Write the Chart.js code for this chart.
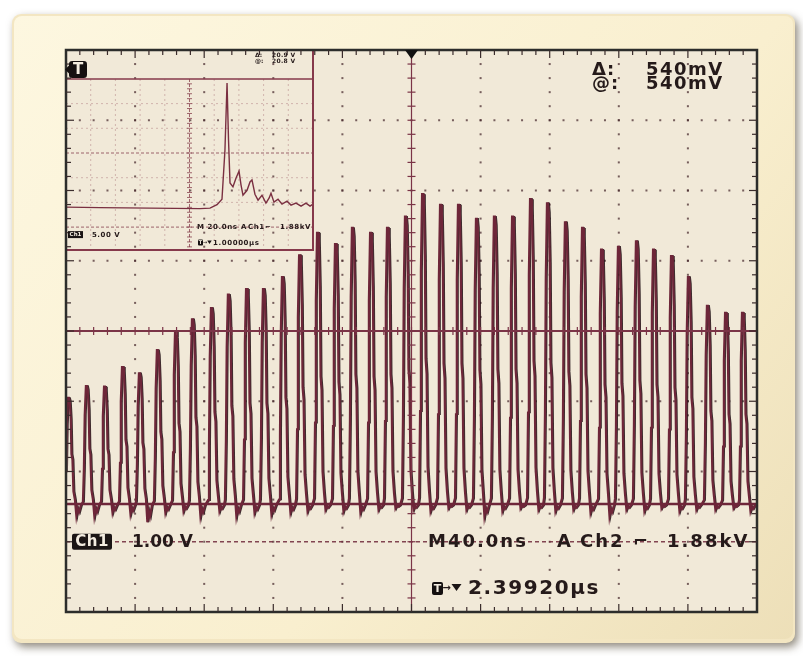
<!DOCTYPE html>
<html>
<head>
<meta charset="utf-8">
<script src="https://cdn.jsdelivr.net/npm/chart.js@4.4.1/dist/chart.umd.min.js"></script>
<style>
  html, body { margin: 0; padding: 0; background: #ffffff; }
  canvas { display: block; }
</style>
</head>
<body>
<canvas id="scope" width="803" height="656"></canvas>
<script>
// ---- Channel 1 pulse train (40 ns/div, 1 V/div) ----
// peak time of each pulse, ns from the trigger point
const pulseTimes = [-198.3, -187.9, -177.4, -167.0, -157.2, -146.8, -136.3, -126.5, -115.5, -105.7,
                    -95.2, -85.4, -74.4, -64.5, -54.1, -43.7, -33.9, -23.4, -13.6, -3.2,
                    6.7, 17.1, 27.5, 37.9, 48.3, 58.8, 69.2, 79.0, 89.4, 99.3,
                    110.3, 120.1, 130.5, 140.4, 150.8, 160.6, 171.6, 182.1, 191.9];
// peak amplitude of each pulse, volts above ground
const pulsePeaks = [1.51, 1.68, 1.67, 1.95, 1.86, 2.19, 2.45, 2.63, 2.79, 2.98,
                    3.06, 3.06, 3.23, 3.54, 3.86, 3.70, 3.93, 3.86, 3.93, 4.09,
                    4.41, 4.26, 4.26, 4.06, 4.09, 4.09, 4.34, 4.28, 4.01, 3.93,
                    3.62, 3.66, 3.74, 3.62, 3.53, 3.23, 2.82, 2.72, 2.72];
// undershoot after each pulse, volts
const pulseUndershoot = [-0.17, -0.17, -0.12, -0.14, -0.26, -0.12, -0.10, -0.17, -0.10, -0.17,
                         -0.12, -0.14, -0.12, -0.10, -0.08, -0.10, -0.12, -0.08, -0.06, -0.08,
                         -0.10, -0.06, -0.08, -0.17, -0.10, -0.06, -0.08, -0.10, -0.08, -0.12,
                         -0.17, -0.08, -0.10, -0.06, -0.10, -0.08, -0.08, -0.06, -0.10];
// single pulse outline: time offset from the peak (ns) and fraction of the peak
const pulseShapeOffsets = [-2.3, -1.74, -1.27, -0.58, 0.0, 0.46, 1.04, 1.45, 2.03, 2.6, 3.47];
const pulseShapeLevels  = [0.02, 0.30, 0.75, 1.0, 1.0, 0.97, 0.80, 0.47, 0.42, 0.12, 0.04];

// ---- zoomed record shown in the inset window (20 ns/div, 5 V/div) ----
const insetTimes = [-100, -72.5, -32, 8.5, 16.6, 22.3, 26.3, 28.7, 30.4, 31.6, 32.8, 35.2, 37.7, 40.1,
                    41.7, 43.3, 46.6, 49.0, 50.6, 53.0, 55.5, 58.7, 61.9, 64.4, 66.0, 68.4, 71.7,
                    74.9, 79.0, 82.2, 86.2, 90.3, 94.3, 97.6, 100];
const insetVolts = [0.2, 0.1, 0.0, -0.1, 0.0, 0.7, 1.8, 11.7, 25.3, 13.8, 5.1, 4.3, 6.1, 7.5,
                    4.7, 2.6, 3.6, 5.3, 5.7, 2.8, 1.6, 2.6, 1.0, 2.0, 3.0, 1.2, 1.8,
                    0.8, 1.4, 0.6, 1.0, 0.4, 1.0, 0.4, 0.8];

// ---- readouts ----
const cursorLabels = ['\u0394:', '@:'];
const cursorValues = ['540mV', '540mV'];
const channelLabel = 'Ch1';
const channelScale = '1.00 V';
const timebaseParts = ['M40.0ns', 'A', 'Ch2', '\u2310', '1.88kV'];
const triggerDelay = '2.39920\u00b5s';
const insetCursorValues = ['20.9 V', '20.8 V'];
const insetScale = '5.00 V';
const insetTimebaseParts = ['M 20.0ns', 'A', 'Ch1', '\u2310', '1.88kV'];
const insetDelay = '1.00000\u00b5s';

// ---- screen geometry ----
const SCREEN = { left: 66, top: 50, right: 757, bottom: 612 };
const NS_PER_DIV = 40, V_PER_DIV = 1, H_DIVS = 10, V_DIVS = 8;
const GROUND_DIVS_BELOW_CENTER = 2.463;
const INSET = { left: 66, top: 50, right: 313, bottom: 250, cx: 189.5, cy: 153, div: 24.7,
                nsPerDiv: 20, vPerDiv: 5, groundDivs: 2.23 };

const SW = SCREEN.right - SCREEN.left, SH = SCREEN.bottom - SCREEN.top;

// build the ch1 trace from the pulse table
const trace = [];
pulseTimes.forEach((t, i) => {
  const a = pulsePeaks[i];
  const u = pulseUndershoot[i];
  pulseShapeOffsets.forEach((o, j) => trace.push({ x: t + o, y: a * pulseShapeLevels[j] }));
  trace.push({ x: t + 4.3, y: u });
  trace.push({ x: t + 5.0, y: u * 0.35 });
  trace.push({ x: t + 5.8, y: u * 0.7 });
  trace.push({ x: t + 6.9, y: -0.02 });
});
trace.push({ x: NS_PER_DIV * H_DIVS / 2, y: -0.03 });

const insetTrace = insetTimes.map((t, i) => ({ x: t, y: insetVolts[i] }));

// inset scales share the full chart area, so their bounds are stretched to land the inset grid in place
const insetPxPerNs = INSET.div / INSET.nsPerDiv;
const insetPxPerV = INSET.div / INSET.vPerDiv;
const insetXMin = (SCREEN.left - INSET.cx) / insetPxPerNs;
const insetXMax = insetXMin + SW / insetPxPerNs;
const insetGroundPx = INSET.cy + INSET.groundDivs * INSET.div;
const insetYMax = (insetGroundPx - SCREEN.top) / insetPxPerV;
const insetYMin = insetYMax - SH / insetPxPerV;

const TRACE = '#6e2639';
const GRID = 'rgba(70,40,45,0.72)';
const INK = '#251a1a';

function roundRect(ctx, x, y, w, h, r) {
  ctx.beginPath();
  ctx.moveTo(x + r, y);
  ctx.arcTo(x + w, y, x + w, y + h, r);
  ctx.arcTo(x + w, y + h, x, y + h, r);
  ctx.arcTo(x, y + h, x, y, r);
  ctx.arcTo(x, y, x + w, y, r);
  ctx.closePath();
}

function text(ctx, str, x, y, font, color, spacing, align) {
  ctx.save();
  ctx.font = font;
  ctx.fillStyle = color;
  ctx.textBaseline = 'middle';
  ctx.textAlign = align || 'left';
  ctx.letterSpacing = (spacing || 0) + 'px';
  ctx.fillText(str, x, y);
  ctx.restore();
}

function triggerIcon(ctx, x, y, w, h, size) {
  ctx.save();
  ctx.fillStyle = '#151010';
  roundRect(ctx, x, y, w, h, Math.max(1, w * 0.18));
  ctx.fill();
  ctx.restore();
  text(ctx, 'T', x + w / 2, y + h / 2 + 0.5, 'bold ' + size + 'px "DejaVu Sans"', '#f4ede0', 0, 'center');
}

function downTriangle(ctx, cx, top, w, h, color) {
  ctx.save();
  ctx.fillStyle = color;
  ctx.beginPath();
  ctx.moveTo(cx - w / 2, top);
  ctx.lineTo(cx + w / 2, top);
  ctx.lineTo(cx, top + h);
  ctx.closePath();
  ctx.fill();
  ctx.restore();
}

const scopePlugin = {
  id: 'scopeScreen',
  beforeDraw(chart) {
    const ctx = chart.ctx;
    const a = chart.chartArea;
    ctx.save();
    ctx.fillStyle = '#ffffff';
    ctx.fillRect(0, 0, chart.width, chart.height);
    // bezel
    ctx.save();
    ctx.shadowColor = 'rgba(70,60,40,0.6)';
    ctx.shadowBlur = 9;
    ctx.shadowOffsetX = 3;
    ctx.shadowOffsetY = 4;
    roundRect(ctx, 12, 14, 783, 629, 9);
    ctx.fillStyle = '#f3e6c2';
    ctx.fill();
    ctx.restore();
    const g = ctx.createLinearGradient(12, 14, 795, 643);
    g.addColorStop(0, '#fdf7e0');
    g.addColorStop(0.6, '#f9efcf');
    g.addColorStop(1, '#eddfb8');
    roundRect(ctx, 14, 16, 779, 623, 8);
    ctx.fillStyle = g;
    ctx.fill();
    // screen
    ctx.fillStyle = '#f1e9d8';
    ctx.fillRect(a.left, a.top, a.width, a.height);

    // dotted graticule
    ctx.fillStyle = GRID;
    const dx = a.width / H_DIVS, dy = a.height / V_DIVS;
    for (let k = 1; k < H_DIVS; k++) {
      if (k === H_DIVS / 2) continue;
      const x = a.left + k * dx;
      for (let j = 1; j < V_DIVS * 5; j++) ctx.fillRect(x - 1, a.top + j * dy / 5 - 1, 2, 2);
    }
    for (let j = 1; j < V_DIVS; j++) {
      if (j === V_DIVS / 2 || j === V_DIVS - 1) continue;
      const y = a.top + j * dy;
      for (let i = 1; i < H_DIVS * 5; i++) ctx.fillRect(a.left + i * dx / 5 - 1, y - 1, 2, 2);
    }
    // readout row, dashed
    ctx.strokeStyle = 'rgba(110,40,58,0.85)';
    ctx.lineWidth = 1.5;
    ctx.setLineDash([4, 3]);
    ctx.beginPath();
    ctx.moveTo(a.left, a.top + (V_DIVS - 1) * dy);
    ctx.lineTo(a.right, a.top + (V_DIVS - 1) * dy);
    ctx.stroke();
    ctx.setLineDash([]);

    // inset window graticule
    ctx.save();
    ctx.beginPath();
    ctx.rect(INSET.left, INSET.top, INSET.right - INSET.left, INSET.bottom - INSET.top);
    ctx.clip();
    ctx.strokeStyle = 'rgba(150,80,92,0.35)';
    ctx.lineWidth = 1;
    ctx.setLineDash([2, 3]);
    for (let k = -4; k <= 4; k++) {
      if (k === 0) continue;
      const x = INSET.cx + k * INSET.div;
      ctx.beginPath(); ctx.moveTo(x, INSET.top + 29); ctx.lineTo(x, INSET.bottom); ctx.stroke();
    }
    for (let j = -2; j <= 2; j++) {
      if (j === 0) continue;
      const y = INSET.cy + j * INSET.div;
      ctx.beginPath(); ctx.moveTo(INSET.left, y); ctx.lineTo(INSET.right, y); ctx.stroke();
    }
    ctx.strokeStyle = 'rgba(130,55,70,0.75)';
    ctx.setLineDash([3, 2]);
    ctx.beginPath(); ctx.moveTo(INSET.left, INSET.cy); ctx.lineTo(INSET.right, INSET.cy); ctx.stroke();
    ctx.beginPath(); ctx.moveTo(INSET.left, INSET.cy + 3 * INSET.div); ctx.lineTo(INSET.right, INSET.cy + 3 * INSET.div); ctx.stroke();
    ctx.beginPath(); ctx.moveTo(INSET.cx, INSET.top + 29); ctx.lineTo(INSET.cx, INSET.bottom); ctx.stroke();
    ctx.setLineDash([]);
    for (let j = -14; j <= 19; j++) {
      const y = INSET.cy + j * INSET.div / 5;
      ctx.beginPath(); ctx.moveTo(INSET.cx - 2.5, y); ctx.lineTo(INSET.cx + 2.5, y); ctx.stroke();
    }
    ctx.restore();
    ctx.restore();
  },
  beforeDatasetDraw(chart, args) {
    const ctx = chart.ctx;
    ctx.save();
    if (args.index === 1) {
      ctx.beginPath();
      ctx.rect(INSET.left, INSET.top + 29, INSET.right - INSET.left, INSET.bottom - INSET.top - 29);
      ctx.clip();
    }
    if (args.index === 2) ctx.translate(1.2, 0);
  },
  afterDatasetDraw(chart) {
    chart.ctx.restore();
  },
  afterDatasetsDraw(chart) {
    const ctx = chart.ctx;
    const a = chart.chartArea;
    const dx = a.width / H_DIVS, dy = a.height / V_DIVS;
    const cx = a.left + a.width / 2, cy = a.top + a.height / 2;
    ctx.save();
    // centre cross with minor ticks
    ctx.strokeStyle = '#7b3447';
    ctx.lineWidth = 2;
    ctx.beginPath(); ctx.moveTo(a.left, cy); ctx.lineTo(a.right, cy); ctx.stroke();
    ctx.lineWidth = 1.2;
    ctx.beginPath(); ctx.moveTo(cx, a.top); ctx.lineTo(cx, a.bottom); ctx.stroke();
    for (let i = 1; i < H_DIVS * 5; i++) {
      const x = a.left + i * dx / 5;
      ctx.beginPath(); ctx.moveTo(x, cy - 4); ctx.lineTo(x, cy + 4); ctx.stroke();
    }
    for (let j = 1; j < V_DIVS * 5; j++) {
      const y = a.top + j * dy / 5;
      ctx.beginPath(); ctx.moveTo(cx - 4, y); ctx.lineTo(cx + 4, y); ctx.stroke();
    }
    // ground reference
    const gy = chart.scales.y.getPixelForValue(0);
    ctx.strokeStyle = TRACE;
    ctx.lineWidth = 2.5;
    ctx.beginPath(); ctx.moveTo(a.left, gy); ctx.lineTo(a.right, gy); ctx.stroke();

    // inset frame
    ctx.strokeStyle = '#86394b';
    ctx.lineWidth = 2;
    ctx.beginPath();
    ctx.moveTo(INSET.right, INSET.top); ctx.lineTo(INSET.right, INSET.bottom); ctx.lineTo(INSET.left, INSET.bottom);
    ctx.stroke();
    ctx.lineWidth = 1.6;
    ctx.beginPath(); ctx.moveTo(INSET.left, INSET.top + 29); ctx.lineTo(INSET.right, INSET.top + 29); ctx.stroke();

    // screen border with ticks
    ctx.strokeStyle = '#2c2d2b';
    ctx.lineWidth = 2.5;
    ctx.strokeRect(a.left, a.top, a.width, a.height);
    ctx.lineWidth = 1.2;
    ctx.strokeStyle = '#3a2c2c';
    for (let i = 1; i < H_DIVS * 5; i++) {
      const x = a.left + i * dx / 5;
      const len = i % 5 === 0 ? 8 : 5;
      ctx.beginPath(); ctx.moveTo(x, a.top); ctx.lineTo(x, a.top + len); ctx.stroke();
      ctx.beginPath(); ctx.moveTo(x, a.bottom); ctx.lineTo(x, a.bottom - len); ctx.stroke();
    }
    for (let j = 1; j < V_DIVS * 5; j++) {
      const y = a.top + j * dy / 5;
      const len = j % 5 === 0 ? 8 : 5;
      ctx.beginPath(); ctx.moveTo(a.left, y); ctx.lineTo(a.left + len, y); ctx.stroke();
      ctx.beginPath(); ctx.moveTo(a.right, y); ctx.lineTo(a.right - len, y); ctx.stroke();
    }
    // trigger position marker
    downTriangle(ctx, cx, a.top, 13, 9, '#111');

    // cursor readout
    const big = 'bold 18px "DejaVu Sans"';
    text(ctx, cursorLabels[0], 592, 70, big, INK, 1);
    text(ctx, cursorValues[0], 646, 70, big, INK, 1.5);
    text(ctx, cursorLabels[1], 592, 84, big, INK, 1);
    text(ctx, cursorValues[1], 646, 84, big, INK, 1.5);

    // channel readout
    const rowY = a.top + (V_DIVS - 1) * dy;
    ctx.fillStyle = '#1b1515';
    roundRect(ctx, 72, rowY - 8, 40, 16, 2);
    ctx.fill();
    text(ctx, channelLabel, 92, rowY + 0.5, 'bold 15px "DejaVu Sans"', '#f3ece0', 0.5, 'center');
    text(ctx, channelScale, 132, rowY + 0.5, 'bold 17px "DejaVu Sans"', INK, 0);
    const tbX = [428, 557, 580, 633, 667];
    timebaseParts.forEach((p, i) => text(ctx, p, tbX[i], rowY + 0.5, 'bold 18px "DejaVu Sans"', INK, i === 3 ? 0 : 2));
    triggerIcon(ctx, 432, 582, 11, 13, 11);
    text(ctx, '\u2192', 442.5, 588, 'bold 10px "DejaVu Sans"', INK, 0);
    downTriangle(ctx, 456.5, 584, 10, 7, '#1b1515');
    text(ctx, triggerDelay, 468, 589, 'bold 20px "DejaVu Sans"', INK, 1.6);

    // inset readouts
    const tiny = 'bold 6px "DejaVu Sans"';
    text(ctx, cursorLabels[0], 255, 55, tiny, INK, 0);
    text(ctx, insetCursorValues[0], 272, 55, tiny, INK, 0.3);
    text(ctx, cursorLabels[1], 255, 61, tiny, INK, 0);
    text(ctx, insetCursorValues[1], 272, 61, tiny, INK, 0.3);
    triggerIcon(ctx, 69, 61, 18, 17, 15);
    ctx.fillStyle = '#151010';
    ctx.beginPath(); ctx.moveTo(65, 69.5); ctx.lineTo(70, 64.5); ctx.lineTo(70, 74.5); ctx.closePath(); ctx.fill();
    const iy = INSET.cy + 3 * INSET.div;
    const itX = [197, 241, 248, 265, 280];
    const small = 'bold 7px "DejaVu Sans"';
    insetTimebaseParts.forEach((p, i) => text(ctx, p, itX[i], iy + 0.5, small, INK, 0.6));
    ctx.fillStyle = '#1b1515';
    ctx.fillRect(68, iy + 4, 15, 7);
    text(ctx, channelLabel, 75.5, iy + 7.7, 'bold 5.5px "DejaVu Sans"', '#f3ece0', 0, 'center');
    text(ctx, insetScale, 92, iy + 7.7, small, INK, 0.5);
    triggerIcon(ctx, 198, iy + 12.5, 5, 6, 5);
    text(ctx, '\u2192', 203, iy + 15.8, 'bold 5px "DejaVu Sans"', INK, 0);
    downTriangle(ctx, 209.5, iy + 13.5, 4.5, 3.5, '#1b1515');
    text(ctx, insetDelay, 213, iy + 16, small, INK, 0.6);
    ctx.restore();
  }
};

new Chart(document.getElementById('scope'), {
  type: 'line',
  data: {
    datasets: [
      { data: trace, borderColor: TRACE, borderWidth: 2.2, pointRadius: 0, tension: 0,
        xAxisID: 'x', yAxisID: 'y' },
      { data: insetTrace, borderColor: '#7a2f41', borderWidth: 1.4, pointRadius: 0, tension: 0,
        xAxisID: 'xi', yAxisID: 'yi' },
      { data: trace, borderColor: 'rgba(28,12,16,0.85)', borderWidth: 1.6, pointRadius: 0, tension: 0,
        xAxisID: 'x', yAxisID: 'y' }
    ]
  },
  options: {
    responsive: false,
    animation: false,
    parsing: false,
    normalized: true,
    layout: { padding: { left: SCREEN.left, top: SCREEN.top, right: 803 - SCREEN.right, bottom: 656 - SCREEN.bottom } },
    plugins: { legend: { display: false }, tooltip: { enabled: false } },
    events: [],
    scales: {
      x: { type: 'linear', display: false, min: -NS_PER_DIV * H_DIVS / 2, max: NS_PER_DIV * H_DIVS / 2 },
      y: { type: 'linear', display: false,
           min: (-V_DIVS / 2 + GROUND_DIVS_BELOW_CENTER) * V_PER_DIV,
           max: (V_DIVS / 2 + GROUND_DIVS_BELOW_CENTER) * V_PER_DIV },
      xi: { type: 'linear', position: 'bottom', display: false, min: insetXMin, max: insetXMax },
      yi: { type: 'linear', position: 'left', display: false, min: insetYMin, max: insetYMax }
    }
  },
  plugins: [scopePlugin]
});
</script>
</body>
</html>
